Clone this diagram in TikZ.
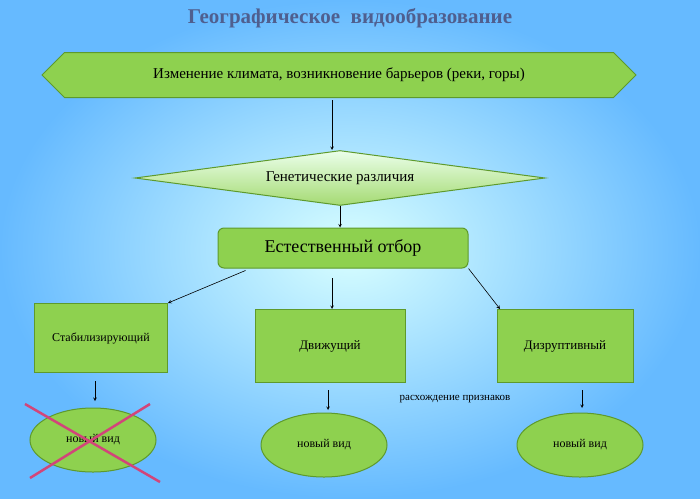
\documentclass[tikz,border=0pt]{standalone}
\usepackage{fontspec}
\setmainfont{Liberation Serif}
\usetikzlibrary{shapes.geometric,shapes.symbols}
\definecolor{boxgreen}{HTML}{8ED14F}
\definecolor{edgegreen}{HTML}{5E9A2C}
\definecolor{titleblue}{HTML}{4F5F8F}
\definecolor{crossred}{HTML}{D2457A}
\tikzset{
  box/.style={draw=edgegreen, line width=1pt, fill=boxgreen, align=center},
  oval/.style={ellipse, draw=edgegreen, line width=1pt, fill=boxgreen, minimum width=126pt, minimum height=64pt, font=\rmfamily\fontsize{12}{14}\selectfont},
  arr/.style={->, >=stealth, semithick}
}
\begin{document}
\begin{tikzpicture}[x=1pt, y=-1pt, font=\rmfamily]
  \shade[inner color=cyan!15, outer color=blue!45!cyan!60] (0,0) rectangle (700,498);
  \useasboundingbox (0,0) rectangle (700,498);
  \node[font=\rmfamily\fontsize{21}{24}\selectfont\bfseries, text=titleblue] (title) at (350,18) {Географическое\ \ видообразование};
  % top banner
  \node[box, signal, signal to=west and east, minimum width=594pt, minimum height=45pt, font=\rmfamily\fontsize{15}{17}\selectfont] (cause) at (339,75) {Изменение климата, возникновение барьеров (реки, горы)};
  \node[diamond, aspect=7.5, draw=edgegreen, line width=1pt, top color=green!8, bottom color=boxgreen!80, inner sep=1pt, minimum width=410pt, minimum height=55pt, font=\rmfamily\fontsize{15}{17}\selectfont] (gen) at (340,178) {Генетические различия};
  \node[box, rounded corners=6pt, minimum width=250pt, minimum height=40pt, font=\rmfamily\fontsize{18}{20}\selectfont] (sel) at (343,248) {Естественный отбор};
  \node[box, minimum width=133pt, minimum height=69pt, font=\rmfamily\fontsize{12}{14}\selectfont] (stab) at (101,338) {Стабилизирующий};
  \node[box, minimum width=150pt, minimum height=73pt, font=\rmfamily\fontsize{13}{15}\selectfont] (move) at (330,346) {Движущий};
  \node[box, minimum width=136pt, minimum height=73pt, font=\rmfamily\fontsize{13}{15}\selectfont] (disr) at (565,346) {Дизруптивный};
  \node[oval] (sp1) at (93,440) {новый вид};
  \node[oval] (sp2) at (324,445) {новый вид};
  \node[oval] (sp3) at (580,445) {новый вид};
  \node[font=\rmfamily\fontsize{11}{13}\selectfont] (div) at (455,399) {расхождение признаков};
  \draw[arr] (332,100) -- (gen.north -| 332,0);
  \draw[arr] (gen.south) -- (sel.north -| gen.south);
  \draw[arr] (sel.south west) ++(28,2) -- (stab.north east);
  \draw[arr] (332,278) -- (move.north -| 332,0);
  \draw[arr] (sel.south east) -- (disr.north -| 500,0);
  \draw[arr] (stab.south) ++(-6,8) -- ++(0,20);
  \draw[arr] (move.south) ++(-2,7) -- ++(0,20);
  \draw[arr] (disr.south) ++(17,7) -- ++(0,18);
  \draw[crossred, line width=2.5pt] (25,404) -- (160,482);
  \draw[crossred, line width=2.5pt] (30,478) -- (150,404);
\end{tikzpicture}
\end{document}
